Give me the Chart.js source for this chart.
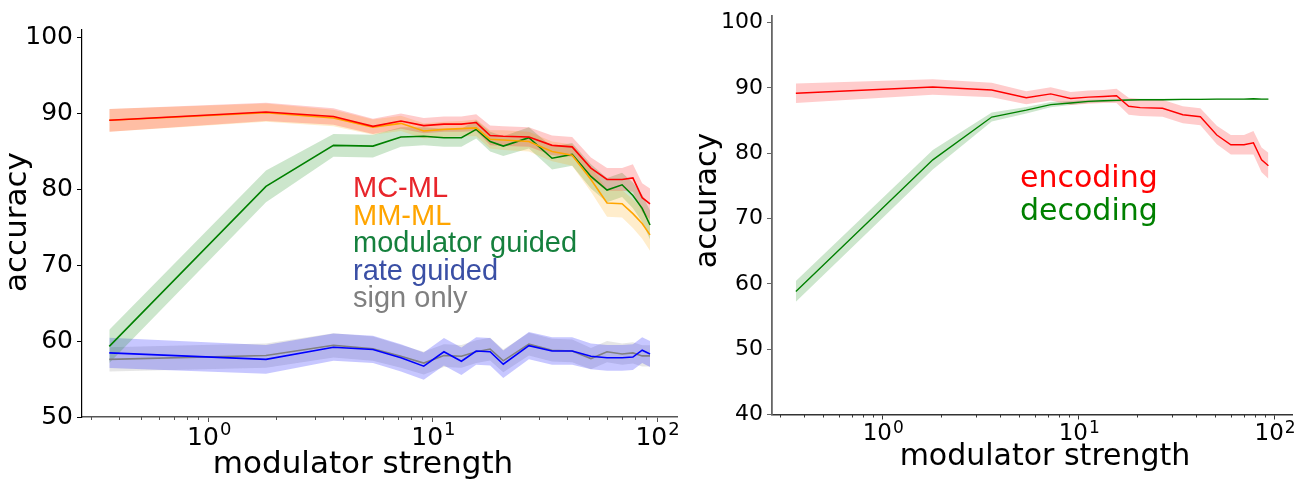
<!DOCTYPE html>
<html>
<head>
<meta charset="utf-8">
<script src="https://cdn.jsdelivr.net/npm/chart.js@4.4.1/dist/chart.umd.min.js"></script>
<style>
html, body { margin: 0; padding: 0; background: #fff; }
#left { position: absolute; left: 0; top: 0; }
#right { position: absolute; left: 690px; top: 0; }
</style>
</head>
<body>
<canvas id="left" width="690" height="479"></canvas>
<canvas id="right" width="604" height="479"></canvas>
<script>
// modulator strength (x, log scale)
const strength = [0.36, 1.8, 3.6, 5.4, 7.2, 9.1, 11.2, 13.4, 15.6, 18, 20.6, 26.8, 34, 41.8, 50.7, 59.8, 69.8, 78, 85.8, 93];

// left panel: accuracy mean and spread
const mcml = [89.1, 90.2, 89.6, 88.3, 89.0, 88.4, 88.6, 88.6, 88.8, 87.1, 87.0, 86.9, 85.8, 85.6, 82.8, 81.3, 81.3, 81.5, 78.9, 78.1];
const mcmlSd = [1.5, 1.2, 1.1, 1.0, 1.0, 1.0, 1.0, 1.0, 1.1, 1.3, 1.3, 1.3, 1.3, 1.3, 1.4, 1.5, 1.5, 1.8, 1.9, 2.0];
const mmml = [89.1, 90.1, 89.4, 88.2, 88.7, 87.7, 87.9, 88.0, 88.1, 86.6, 86.5, 86.3, 85.0, 84.5, 81.3, 78.2, 78.1, 76.8, 75.5, 74.0];
const mmmlSd = [1.5, 1.2, 1.1, 1.0, 1.0, 1.0, 1.0, 1.0, 1.1, 1.2, 1.3, 1.3, 1.3, 1.4, 1.6, 1.8, 1.8, 1.9, 2.0, 2.1];
const modGuided = [59.3, 80.4, 85.8, 85.7, 86.9, 87.0, 86.8, 86.8, 87.9, 86.3, 85.7, 86.8, 84.1, 84.6, 81.7, 79.9, 80.6, 79.2, 77.5, 75.3];
const modGuidedSd = [2.2, 2.1, 1.5, 1.5, 1.3, 1.2, 1.2, 1.2, 1.2, 1.3, 1.3, 1.4, 1.5, 1.5, 1.6, 1.6, 1.6, 1.7, 1.8, 1.9];
const rateGuided = [58.45, 57.6, 59.2, 58.9, 57.8, 56.7, 58.6, 57.35, 58.7, 58.6, 56.95, 59.4, 58.7, 58.7, 58.0, 57.8, 57.8, 57.9, 58.8, 58.3];
const rateGuidedSd = [2.0, 1.9, 1.8, 1.8, 1.8, 1.8, 1.8, 1.8, 1.8, 1.8, 1.8, 1.8, 1.8, 1.8, 1.7, 1.7, 1.7, 1.7, 1.7, 1.7];
const signOnly = [57.6, 58.1, 59.45, 59.0, 58.0, 57.1, 58.1, 58.0, 58.6, 58.95, 57.4, 59.6, 58.8, 58.7, 57.7, 58.6, 58.3, 58.45, 58.05, 58.05];
const signOnlySd = [1.6, 1.6, 1.6, 1.6, 1.5, 1.5, 1.5, 1.5, 1.5, 1.5, 1.5, 1.5, 1.5, 1.5, 1.4, 1.4, 1.4, 1.4, 1.4, 1.4];

// right panel
const encoding = [89.2, 90.15, 89.7, 88.5, 89.1, 88.4, 88.6, 88.7, 88.8, 87.2, 87.0, 86.9, 85.9, 85.6, 82.8, 81.3, 81.3, 81.6, 79.0, 78.1];
const encodingSd = [1.5, 1.2, 1.1, 1.0, 1.0, 1.0, 1.0, 1.0, 1.1, 1.3, 1.3, 1.3, 1.3, 1.3, 1.4, 1.5, 1.5, 1.8, 1.9, 2.0];
const decoding = [58.85, 79.0, 85.55, 86.6, 87.45, 87.7, 87.95, 88.05, 88.1, 88.15, 88.2, 88.2, 88.25, 88.25, 88.3, 88.3, 88.3, 88.35, 88.3, 88.3];
const decodingSd = [1.6, 1.5, 0.7, 0.5, 0.4, 0.3, 0.25, 0.2, 0.2, 0.15, 0.15, 0.15, 0.1, 0.1, 0.1, 0.1, 0.1, 0.1, 0.1, 0.1];

// axis ticks
const majorTicks = [1, 10, 100];
const majorExponents = ['0', '1', '2'];
const minorTicks = [0.3, 0.4, 0.5, 0.6, 0.7, 0.8, 0.9, 2, 3, 4, 5, 6, 7, 8, 9, 20, 30, 40, 50, 60, 70, 80, 90];
const leftYTicks = [50, 60, 70, 80, 90, 100];
const rightYTicks = [40, 50, 60, 70, 80, 90, 100];

const xMin = 0.272, xMax = 122.7;
const dejavu = '"DejaVu Sans", sans-serif';
const arial = '"Liberation Sans", Arial, sans-serif';

// free text (titles, labels) + 10^n tick labels with a real superscript
function textsPlugin(items, lab) {
    return {
        id: 'texts',
        afterDraw(chart) {
            const ctx = chart.ctx;
            items.forEach(t => {
                ctx.save();
                ctx.font = t.font;
                ctx.fillStyle = t.color;
                ctx.textAlign = t.align || 'left';
                ctx.textBaseline = 'alphabetic';
                ctx.translate(t.x, t.y);
                if (t.rot) ctx.rotate(t.rot);
                ctx.fillText(t.text, 0, 0);
                ctx.restore();
            });
            const sx = chart.scales.x;
            ctx.save();
            ctx.fillStyle = '#000';
            ctx.textAlign = 'left';
            ctx.textBaseline = 'alphabetic';
            majorTicks.forEach((v, i) => {
                const px = sx.getPixelForValue(v);
                ctx.font = lab.size + 'px ' + dejavu;
                const w1 = ctx.measureText('10').width;
                ctx.font = lab.supSize + 'px ' + dejavu;
                const w2 = ctx.measureText(majorExponents[i]).width;
                const x0 = px - (w1 + w2) / 2;
                ctx.font = lab.size + 'px ' + dejavu;
                ctx.fillText('10', x0, lab.base);
                ctx.font = lab.supSize + 'px ' + dejavu;
                ctx.fillText(majorExponents[i], x0 + w1 + 1, lab.supBase);
            });
            ctx.restore();
        }
    };
}

function buildDatasets(series) {
    const datasets = [];
    series.forEach(s => {
        datasets.push({
            data: strength.map((x, i) => ({ x: x, y: s.mean[i] - s.sd[i] })),
            borderWidth: 0, borderColor: 'transparent', pointRadius: 0, fill: false, order: 20
        });
        datasets.push({
            data: strength.map((x, i) => ({ x: x, y: s.mean[i] + s.sd[i] })),
            borderWidth: 0, borderColor: 'transparent', pointRadius: 0, fill: '-1',
            backgroundColor: s.band, order: 20
        });
    });
    series.forEach((s, k) => {
        datasets.push({
            data: strength.map((x, i) => ({ x: x, y: s.mean[i] })),
            borderColor: s.color, borderWidth: s.width || 1.6, pointRadius: 0, fill: false, order: k
        });
    });
    datasets.forEach(d => { d.xAxisID = 'x'; d.yAxisID = 'y'; d.tension = 0; });
    return datasets;
}

function makeChart(canvasId, series, o) {
    return new Chart(document.getElementById(canvasId), {
        type: 'line',
        data: { datasets: buildDatasets(series) },
        options: {
            responsive: false,
            animation: false,
            events: [],
            layout: { padding: { top: o.padTop, right: o.padRight, left: 0, bottom: 0 } },
            plugins: { legend: { display: false }, tooltip: { enabled: false } },
            scales: {
                x: {
                    type: 'logarithmic', position: 'bottom', weight: 1,
                    min: xMin, max: xMax,
                    afterBuildTicks: a => { a.ticks = majorTicks.map(v => ({ value: v })); },
                    afterFit: a => { a.height = o.xHeight; a.paddingLeft = 0; a.paddingRight = 0; },
                    ticks: { display: false },
                    grid: { drawOnChartArea: false, tickLength: 5, color: o.xColor, tickWidth: 1 },
                    border: { color: o.xColor, width: o.xWidth }
                },
                xm: {
                    type: 'logarithmic', position: 'bottom', weight: 0,
                    min: xMin, max: xMax,
                    afterBuildTicks: a => { a.ticks = minorTicks.map(v => ({ value: v })); },
                    afterFit: a => { a.height = 0; a.paddingLeft = 0; a.paddingRight = 0; },
                    ticks: { display: false },
                    grid: { drawOnChartArea: false, tickLength: 3, color: o.xColor, tickWidth: 1 },
                    border: { display: false }
                },
                y: {
                    type: 'linear', position: 'left',
                    min: o.yMin, max: o.yMax,
                    afterBuildTicks: a => { a.ticks = o.yTicks.map(v => ({ value: v })); },
                    afterFit: a => { a.width = o.yWidth; a.paddingTop = 0; a.paddingBottom = 0; },
                    ticks: { font: { family: dejavu, size: o.yTickSize }, color: '#000', padding: 4 },
                    grid: { drawOnChartArea: false, tickLength: 5, color: o.yColor, tickWidth: 1 },
                    border: { color: o.yColor, width: o.yWidth2 }
                }
            }
        },
        plugins: [textsPlugin(o.texts, o.xLabels)]
    });
}

makeChart('left', [
    { mean: mcml, sd: mcmlSd, color: '#ff0000', band: 'rgba(255,0,0,0.2)' },
    { mean: mmml, sd: mmmlSd, color: '#ffa500', band: 'rgba(255,165,0,0.2)' },
    { mean: modGuided, sd: modGuidedSd, color: '#008000', band: 'rgba(0,128,0,0.2)' },
    { mean: rateGuided, sd: rateGuidedSd, color: '#0000ff', band: 'rgba(0,0,255,0.22)' },
    { mean: signOnly, sd: signOnlySd, color: '#808080', band: 'rgba(128,128,128,0.2)' }
], {
    padTop: 30, padRight: 13, xHeight: 62, yWidth: 82,
    yMin: 50, yMax: 101, yTicks: leftYTicks, yTickSize: 25,
    xLabels: { size: 25, supSize: 18, base: 445, supBase: 435 },
    xColor: '#555', xWidth: 1.6, yColor: '#000', yWidth2: 1.2,
    texts: [
        { text: 'modulator strength', x: 363, y: 473, font: '31px ' + dejavu, color: '#000', align: 'center' },
        { text: 'accuracy', x: 26, y: 222, font: '31px ' + dejavu, color: '#000', align: 'center', rot: -Math.PI / 2 },
        { text: 'MC-ML', x: 353, y: 197, font: '29px ' + arial, color: '#e8252b' },
        { text: 'MM-ML', x: 353, y: 224.5, font: '29px ' + arial, color: '#ffa500' },
        { text: 'modulator guided', x: 353, y: 252, font: '29px ' + arial, color: '#15803d' },
        { text: 'rate guided', x: 353, y: 279.5, font: '29px ' + arial, color: '#3a4fa5' },
        { text: 'sign only', x: 353, y: 307, font: '29px ' + arial, color: '#808080' }
    ]
});

makeChart('right', [
    { mean: encoding, sd: encodingSd, color: '#ff0000', band: 'rgba(255,0,0,0.2)', width: 1.4 },
    { mean: decoding, sd: decodingSd, color: '#008000', band: 'rgba(0,128,0,0.2)', width: 1.4 }
], {
    padTop: 15.5, padRight: 2, xHeight: 64.5, yWidth: 82,
    yMin: 40, yMax: 101.1, yTicks: rightYTicks, yTickSize: 22,
    xLabels: { size: 23, supSize: 17, base: 440, supBase: 433 },
    xColor: '#333', xWidth: 1.4, yColor: '#666', yWidth2: 1.8,
    texts: [
        { text: 'modulator strength', x: 355, y: 465, font: '30px ' + dejavu, color: '#000', align: 'center' },
        { text: 'accuracy', x: 25.5, y: 200.5, font: '30px ' + dejavu, color: '#000', align: 'center', rot: -Math.PI / 2 },
        { text: 'encoding', x: 330, y: 187, font: '30px ' + dejavu, color: '#ff0000' },
        { text: 'decoding', x: 330, y: 220, font: '30px ' + dejavu, color: '#008000' }
    ]
});
</script>
</body>
</html>
